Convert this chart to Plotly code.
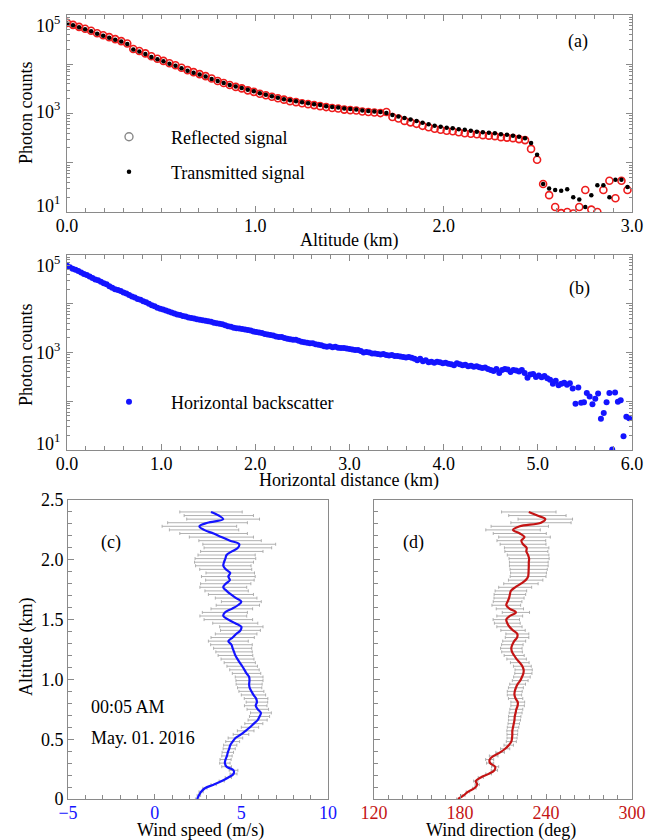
import plotly.graph_objects as go

# ---------------- data ----------------
# (a) altitude bins (km) and photon counts
alt_bin_km = 0.032
n_a = 94
altitude_a = [round(i * alt_bin_km, 3) for i in range(n_a)]
transmitted = [
    67600, 61700, 56200, 51300, 46800, 41700, 38000, 34700, 31600, 28800,
    25700, 20000, 18200, 16200, 14100, 12600, 11500, 10200, 9330, 8320,
    7410, 6760, 6170, 5620, 5010, 4570, 4170, 3800, 3550, 3310,
    3020, 2820, 2570, 2400, 2240, 2090, 1950, 1860, 1780, 1700,
    1620, 1550, 1480, 1410, 1350, 1320, 1260, 1230, 1200, 1150,
    1120, 1100, 1070, 1020, 933, 871, 813, 759, 708, 646,
    603, 562, 537, 513, 501, 479, 468, 447, 427, 417,
    407, 398, 380, 372, 355, 339, 316, 251, 145, 37,
    30, 28, 27, 29, 20, 18, 12.6, 22, 35, 35,
    20, 45, 45, 32,
]
reflected = [
    69200, 63100, 57500, 52500, 47900, 42700, 38900, 35500, 32400, 29500,
    26300, 20400, 18600, 16600, 14500, 12900, 11700, 10500, 9550, 8510,
    7590, 6920, 6310, 5750, 5130, 4570, 4170, 3800, 3470, 3240,
    2950, 2750, 2510, 2340, 2190, 2040, 1910, 1780, 1700, 1620,
    1550, 1480, 1410, 1350, 1290, 1260, 1200, 1170, 1150, 1100,
    1070, 1050, 1020, 1070, 851, 794, 708, 661, 617, 562,
    525, 490, 468, 447, 437, 417, 398, 389, 380, 363,
    355, 347, 331, 324, 316, 302, 288, 191, 115, 37,
    22, 12.6, 9.5, 10, 9.3, 12.6, 28, 11.2, 10, 28,
    43, 19, 43, 28,
]

# (b) horizontal distance bins (km) and photon counts
dist_bin_km = 0.03
n_b = 200
distance_b = [round(i * dist_bin_km, 3) for i in range(n_b)]
backscatter_log10 = [
    4.78, 4.75, 4.72, 4.70, 4.67, 4.64, 4.61, 4.59, 4.56, 4.53,
    4.50, 4.48, 4.45, 4.42, 4.40, 4.36, 4.33, 4.30, 4.28, 4.26,
    4.23, 4.21, 4.18, 4.15, 4.13, 4.10, 4.08, 4.05, 4.03, 4.00,
    3.97, 3.95, 3.92, 3.90, 3.88, 3.86, 3.84, 3.82, 3.80, 3.78,
    3.77, 3.75, 3.74, 3.72, 3.71, 3.70, 3.68, 3.67, 3.66, 3.65,
    3.64, 3.63, 3.61, 3.60, 3.59, 3.58, 3.56, 3.54, 3.53, 3.51,
    3.50, 3.49, 3.48, 3.47, 3.46, 3.45, 3.43, 3.42, 3.41, 3.40,
    3.38, 3.37, 3.36, 3.35, 3.33, 3.32, 3.32, 3.30, 3.28, 3.27,
    3.26, 3.26, 3.24, 3.22, 3.21, 3.20, 3.19, 3.19, 3.17, 3.16,
    3.15, 3.13, 3.12, 3.13, 3.11, 3.12, 3.10, 3.09, 3.09, 3.08,
    3.07, 3.06, 3.05, 3.05, 3.03, 3.00, 3.01, 3.00, 2.98, 2.98,
    2.97, 2.96, 2.97, 2.95, 2.94, 2.95, 2.93, 2.93, 2.92, 2.91,
    2.90, 2.91, 2.89, 2.87, 2.84, 2.87, 2.82, 2.84, 2.80, 2.81,
    2.79, 2.81, 2.80, 2.78, 2.79, 2.77, 2.76, 2.74, 2.78, 2.76,
    2.74, 2.75, 2.72, 2.73, 2.71, 2.72, 2.70, 2.68, 2.69, 2.66,
    2.64, 2.62, 2.66, 2.58, 2.64, 2.66, 2.65, 2.60, 2.64, 2.63,
    2.61, 2.64, 2.58, 2.48, 2.55, 2.56, 2.50, 2.53, 2.49, 2.52,
    2.47, 2.44, 2.36, 2.42, 2.33, 2.36, 2.38, 2.34, 2.37, 2.26,
    1.95, 2.28, 1.97, 1.98, 2.17, 2.10, 1.94, 2.05, 2.16, 1.64,
    1.76, 1.98, 2.17, 1.01, 2.18, 1.99, 2.02, 1.28, 1.68, 1.65,
]
backscatter = [10 ** v for v in backscatter_log10]

# (c), (d) wind profiles
wind_bin_km = 0.03
n_w = 81
altitude_w = [round(i * wind_bin_km, 3) for i in range(n_w)]
wind_speed = [
    2.45, 2.55, 2.68, 2.90, 3.40, 3.87, 4.25, 4.55, 4.55, 4.15,
    4.05, 4.09, 4.17, 4.22, 4.30, 4.36, 4.50, 4.66, 4.98, 5.25,
    5.50, 5.72, 5.94, 6.05, 6.13, 5.95, 5.83, 5.90, 5.85, 5.70,
    5.58, 5.48, 5.45, 5.47, 5.45, 5.30, 5.18, 5.05, 4.91, 4.78,
    4.66, 4.58, 4.50, 4.43, 4.25, 4.50, 4.70, 4.95, 5.00, 4.65,
    4.25, 3.96, 4.05, 4.45, 4.80, 5.00, 4.70, 4.40, 4.15, 3.96,
    4.10, 4.34, 4.25, 4.36, 4.10, 3.96, 4.00, 4.08, 4.15, 4.45,
    4.80, 4.88, 4.35, 3.85, 3.40, 2.85, 2.58, 3.05, 3.95, 3.70,
    3.25,
]
wind_speed_err = [
    0.10, 0.10, 0.12, 0.12, 0.15, 0.15, 0.18, 0.20, 0.25, 0.28,
    0.30, 0.32, 0.30, 0.33, 0.35, 0.38, 0.40, 0.42, 0.45, 0.48,
    0.50, 0.52, 0.55, 0.58, 0.60, 0.62, 0.65, 0.62, 0.68, 0.70,
    0.72, 0.70, 0.75, 0.78, 0.80, 0.82, 0.85, 0.88, 0.90, 0.95,
    1.00, 1.05, 1.10, 1.20, 1.15, 1.25, 1.20, 1.15, 1.25, 1.30,
    1.40, 1.35, 1.30, 1.20, 1.25, 1.15, 1.20, 1.30, 1.25, 1.35,
    1.45, 1.40, 1.55, 1.40, 1.50, 1.60, 1.70, 1.75, 1.65, 1.80,
    1.95, 2.10, 1.80, 1.85, 1.95, 2.00, 2.15, 2.30, 2.10, 2.00,
    1.80,
]
wind_dir = [
    178.6, 182.5, 185.5, 190.0, 192.0, 191.0, 194.5, 200.0, 204.0, 204.5,
    201.0, 200.7, 203.5, 208.0, 211.5, 214.0, 215.8, 216.3, 216.5, 216.5,
    217.0, 217.5, 218.0, 218.2, 218.8, 219.3, 220.2, 220.3, 218.8, 218.0,
    218.2, 219.0, 220.2, 222.0, 223.2, 224.2, 224.4, 223.5, 221.7, 219.5,
    217.8, 216.3, 215.8, 216.5, 217.8, 219.8, 220.0, 217.0, 214.5, 213.0,
    212.3, 214.7, 219.0, 214.8, 212.3, 213.2, 214.2, 214.8, 215.5, 218.5,
    222.5, 225.8, 227.5, 227.8, 227.9, 228.0, 228.0, 228.2, 227.5, 226.3,
    226.5, 224.0, 222.8, 225.0, 221.7, 217.0, 221.7, 236.5, 239.5, 234.0,
    228.0,
]
wind_dir_err = [
    1.0, 1.0, 1.2, 1.2, 1.5, 1.5, 1.8, 2.0, 2.2, 2.5,
    2.5, 2.8, 3.0, 3.0, 3.2, 3.3, 3.5, 3.5, 3.7, 3.8,
    4.0, 4.0, 4.2, 4.3, 4.5, 4.5, 4.7, 4.8, 5.0, 5.0,
    5.2, 5.2, 5.5, 5.5, 5.8, 6.0, 6.0, 6.2, 6.5, 6.8,
    7.0, 7.2, 7.5, 7.5, 8.0, 8.2, 8.0, 8.5, 8.8, 9.0,
    9.2, 9.0, 9.5, 9.5, 10.0, 10.0, 10.5, 11.0, 11.0, 11.5,
    12.0, 12.0, 12.5, 12.5, 13.0, 13.5, 13.5, 14.0, 14.5, 15.0,
    15.5, 16.0, 17.0, 18.0, 18.5, 19.0, 20.0, 21.0, 19.0, 20.0,
    19.0,
]

# tick labels
log_major = [10, 100, 1000, 10000, 100000]
log_minor = [m * 10 ** d for d in range(1, 5) for m in range(2, 10)]
log_label_text = ["10<sup>5</sup>", "10<sup>3</sup>", "10<sup>1</sup>"]
xa_tickvals = [0, 1, 2, 3]
xa_ticktext = ["0.0", "1.0", "2.0", "3.0"]
xb_tickvals = [0, 1, 2, 3, 4, 5, 6]
xb_ticktext = ["0.0", "1.0", "2.0", "3.0", "4.0", "5.0", "6.0"]
alt_tickvals = [0, 0.5, 1.0, 1.5, 2.0, 2.5]
alt_ticktext = ["0", "0.5", "1.0", "1.5", "2.0", "2.5"]
speed_tickvals = [-5, 0, 5, 10]
dir_tickvals = [120, 180, 240, 300]

# ---------------- style ----------------
# The page body has an 8 px margin, so the figure is placed 8 px in from the corner.
OFF = 8
W, H = 648, 832
FONT = "Liberation Serif, Times New Roman, serif"
AX = "#8a8a8a"
RED = "#ee1c1c"
BLUE = "#1414ff"
DRED = "#c41414"
GREY_ERR = "#a8a8a8"


def px(x):
    return (x - OFF) / W


def py(y):
    return 1 - (y - OFF) / H


fig = go.Figure()

# (a)
fig.add_trace(go.Scatter(
    x=altitude_a, y=reflected, mode="markers", xaxis="x", yaxis="y",
    marker=dict(symbol="circle-open", size=7, color=RED, line=dict(width=1.6, color=RED)),
    showlegend=False))
fig.add_trace(go.Scatter(
    x=altitude_a, y=transmitted, mode="markers", xaxis="x", yaxis="y",
    marker=dict(symbol="circle", size=4.5, color="black"),
    name="Transmitted signal", legend="legend2"))
fig.add_trace(go.Scatter(
    x=[None], y=[None], mode="markers", xaxis="x", yaxis="y",
    marker=dict(symbol="circle-open", size=8, color="#888888", line=dict(width=1.4, color="#888888")),
    name="Reflected signal", legend="legend"))

# (b)
fig.add_trace(go.Scatter(
    x=distance_b, y=backscatter, mode="markers", xaxis="x2", yaxis="y2",
    marker=dict(symbol="circle", size=6, color=BLUE),
    name="Horizontal backscatter", legend="legend3"))

# (c)
fig.add_trace(go.Scatter(
    x=wind_speed, y=altitude_w, mode="markers", xaxis="x3", yaxis="y3",
    marker=dict(size=1, color="rgba(0,0,0,0)"),
    error_x=dict(type="data", array=wind_speed_err, color=GREY_ERR, thickness=0.9, width=1.5),
    showlegend=False))
fig.add_trace(go.Scatter(
    x=wind_speed, y=altitude_w, mode="lines", xaxis="x3", yaxis="y3",
    line=dict(color=BLUE, width=2.2, shape="spline", smoothing=1.0),
    showlegend=False))

# (d)
fig.add_trace(go.Scatter(
    x=wind_dir, y=altitude_w, mode="markers", xaxis="x4", yaxis="y4",
    marker=dict(size=1, color="rgba(0,0,0,0)"),
    error_x=dict(type="data", array=wind_dir_err, color=GREY_ERR, thickness=0.9, width=1.5),
    showlegend=False))
fig.add_trace(go.Scatter(
    x=wind_dir, y=altitude_w, mode="lines", xaxis="x4", yaxis="y4",
    line=dict(color=DRED, width=2.2, shape="spline", smoothing=1.0),
    showlegend=False))

tickfont = dict(family=FONT, size=18, color="black")
common = dict(showline=True, linecolor=AX, linewidth=1, ticks="inside", tickcolor=AX,
              showgrid=False, zeroline=False, automargin=False, ticklabeloverflow="allow")

dom_top_a = [py(212), py(15)]
dom_top_b = [py(450), py(255)]
dom_cd = [py(799), py(500)]

legend_common = dict(xanchor="left", yanchor="middle", bgcolor="rgba(0,0,0,0)",
                     borderwidth=0, itemwidth=74,
                     font=dict(family=FONT, size=18, color="black"))

fig.update_layout(
    width=W, height=H, margin=dict(l=0, r=0, t=0, b=0, autoexpand=False),
    paper_bgcolor="white", plot_bgcolor="white",
    font=dict(family=FONT, size=18, color="black"),
    xaxis=dict(domain=[px(67), px(632)], anchor="y", range=[0, 3],
               tickvals=xa_tickvals, ticktext=xa_ticktext, ticklen=6, mirror="allticks",
               tickfont=tickfont, ticklabelstandoff=-3,
               minor=dict(dtick=0.1, ticks="inside", ticklen=4, tickcolor=AX), **common),
    yaxis=dict(domain=dom_top_a, anchor="x", type="log", range=[1, 5],
               tickvals=log_major, ticklen=6, mirror="allticks", showticklabels=False,
               minor=dict(tickvals=log_minor, ticks="inside", ticklen=3, tickcolor=AX), **common),
    xaxis2=dict(domain=[px(67), px(632)], anchor="y2", range=[0, 6],
                tickvals=xb_tickvals, ticktext=xb_ticktext, ticklen=6, mirror="allticks",
                tickfont=tickfont, ticklabelstandoff=-3,
                minor=dict(dtick=0.2, ticks="inside", ticklen=4, tickcolor=AX), **common),
    yaxis2=dict(domain=dom_top_b, anchor="x2", type="log", range=[1, 5],
                tickvals=log_major, ticklen=6, mirror="allticks", showticklabels=False,
                minor=dict(tickvals=log_minor, ticks="inside", ticklen=3, tickcolor=AX), **common),
    xaxis3=dict(domain=[px(68), px(328)], anchor="y3", range=[-5, 10],
                tickvals=speed_tickvals, ticklen=5, mirror=True, ticklabelstandoff=-3,
                tickfont=dict(family=FONT, size=18, color=BLUE),
                minor=dict(dtick=1, ticks="inside", ticklen=4, tickcolor=AX), **common),
    yaxis3=dict(domain=dom_cd, anchor="x3", range=[0, 2.5],
                tickvals=alt_tickvals, ticktext=alt_ticktext, ticklen=6, mirror=True,
                tickfont=tickfont,
                minor=dict(dtick=0.1, ticks="inside", ticklen=4, tickcolor=AX), **common),
    xaxis4=dict(domain=[px(374), px(632)], anchor="y4", range=[120, 300],
                tickvals=dir_tickvals, ticklen=5, mirror=True, ticklabelstandoff=-3,
                tickfont=dict(family=FONT, size=18, color=DRED),
                minor=dict(dtick=10, ticks="inside", ticklen=4, tickcolor=AX), **common),
    yaxis4=dict(domain=dom_cd, anchor="x4", range=[0, 2.5],
                tickvals=alt_tickvals, ticklen=6, mirror=True, showticklabels=False,
                minor=dict(dtick=0.1, ticks="inside", ticklen=4, tickcolor=AX), **common),
    legend=dict(x=px(87), y=py(137), **legend_common),
    legend2=dict(x=px(87), y=py(172), **legend_common),
    legend3=dict(x=px(87), y=py(402), **legend_common),
)


def label(text, x, y, xanchor="center", angle=0, size=18):
    fig.add_annotation(text=text, x=px(x), y=py(y), xref="paper", yref="paper",
                       xanchor=xanchor, yanchor="middle", showarrow=False, textangle=angle,
                       font=dict(family=FONT, size=size, color="black"))


# log-axis tick labels (nudged inside the frame as in the original figure)
for txt, yy in zip(log_label_text, [24, 111, 204]):
    label(txt, 62, yy, xanchor="right")
for txt, yy in zip(log_label_text, [264, 351, 442]):
    label(txt, 62, yy, xanchor="right")

label("Altitude (km)", 349.5, 240)
label("Horizontal distance (km)", 349.5, 480)
label("Wind speed (m/s)", 200, 830)
label("Wind direction (deg)", 501, 830)
label("Photon counts", 26, 113, angle=-90)
label("Photon counts", 26, 355, angle=-90)
label("Altitude (km)", 26, 647, angle=-90)
label("(a)", 578, 42)
label("(b)", 579, 288)
label("(c)", 111, 542)
label("(d)", 413, 542)
label("00:05 AM", 89, 707, xanchor="left")
label("May. 01. 2016", 89, 738, xanchor="left")

fig.write_html("out.html")
